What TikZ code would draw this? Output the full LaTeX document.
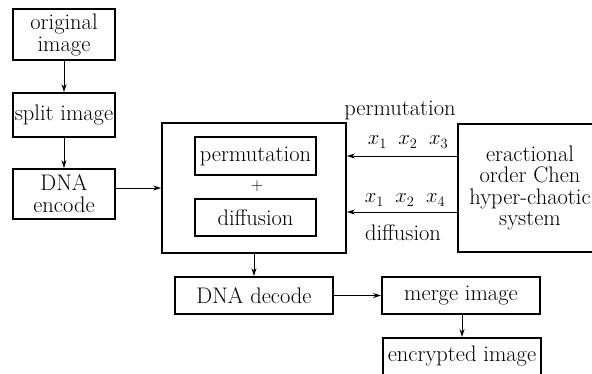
\documentclass[tikz,border=0pt]{standalone}
\usetikzlibrary{arrows.meta}
\begin{document}
\begin{tikzpicture}[x=1pt,y=-1pt,
  box/.style={draw,line width=1.8pt,inner sep=0pt,align=center,font=\fontsize{22.5}{22}\selectfont},
  ibox/.style={draw,line width=1.5pt,inner sep=0pt,align=center,font=\fontsize{22.5}{22}\selectfont},
  lbl/.style={inner sep=0pt,font=\fontsize{22.5}{22}\selectfont},
  arr/.style={-{Stealth[length=8pt,width=5pt]},line width=1pt}]
\useasboundingbox (0,0) rectangle (592,373);
\clip (0,0) rectangle (592,373);
\node[box,minimum width=102pt,minimum height=51pt] (orig) at (64,34.5) {original\\image};
\node[box,minimum width=102pt,minimum height=44pt] (split) at (64,115) {split image};
\node[box,minimum width=102pt,minimum height=50pt] (enc) at (64,194) {DNA\\encode};
\node[box,minimum width=184pt,minimum height=130pt] (big) at (254,188) {};
\node[ibox,minimum width=121pt,minimum height=38pt] (perm) at (255.5,156) {permutation};
\node[ibox,minimum width=121pt,minimum height=37pt] (diff) at (255.5,217.5) {diffusion};
\node[lbl,font=\fontsize{18}{20}\selectfont] (plus) at (257,186) {$+$};
\node[box,minimum width=144pt,minimum height=128pt,font=\fontsize{22.5}{21.5}\selectfont] (chen) at (530,188) {eractional\\order Chen\\hyper-chaotic\\system};
\node[box,minimum width=158pt,minimum height=37pt] (dec) at (254,295.5) {DNA decode};
\node[box,minimum width=158pt,minimum height=37pt] (merge) at (461,295.5) {merge image};
\node[box,minimum width=158pt,minimum height=37pt,anchor=north] (encr) at (462,337) {encrypted image};
\node[lbl] (lp) at (400,110) {permutation};
\node[lbl] (lx1) at (408,142) {$x_1\;\;x_2\;\;x_3$};
\node[lbl] (lx2) at (405,200) {$x_1\;\;x_2\;\;x_4$};
\node[lbl] (ld) at (403,233) {diffusion};
\draw[arr] (orig) -- (split);
\draw[arr] (split) -- (enc);
\draw[arr] (enc.east |- big.west) -- (big.west);
\draw[arr] (chen.west |- perm) -- (big.east |- perm);
\coordinate (cd) at ([yshift=-24pt]chen.west);
\draw[arr] (cd) -- (big.east |- cd);
\draw[arr] (big.south) -- (dec.north);
\draw[arr] (dec) -- (merge);
\draw[arr] (merge.south -| encr.north) -- (encr.north);
\end{tikzpicture}
\end{document}
